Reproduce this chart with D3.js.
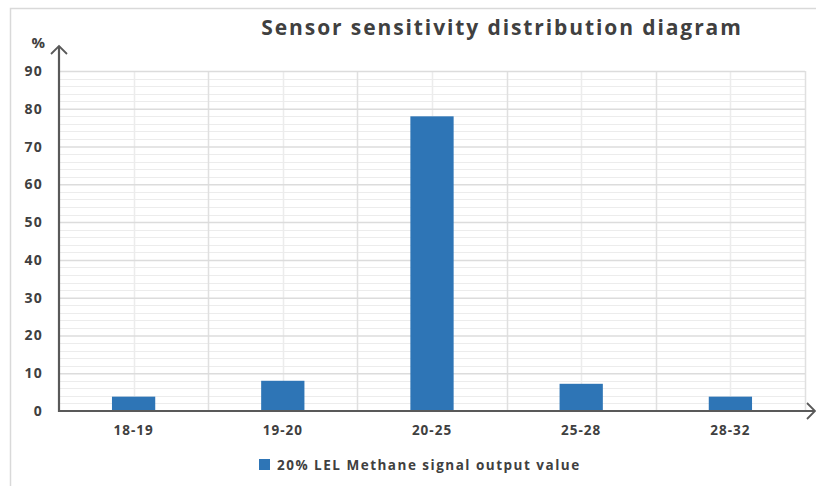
<!DOCTYPE html>
<html>
<head>
<meta charset="utf-8">
<script src="https://cdn.jsdelivr.net/npm/d3@7"></script>
<style>
  body { margin: 0; background: #fff; }
  svg text { font-family: 'Open Sans', 'Liberation Sans', sans-serif; font-weight: 700; fill: #404040; }
</style>
</head>
<body>
<div id="chart"></div>
<script>
const categories = ['18-19', '19-20', '20-25', '25-28', '28-32'];
const values = [3.8, 8, 78, 7.2, 3.8];
const yTicks = [0, 10, 20, 30, 40, 50, 60, 70, 80, 90];
const seriesName = '20% LEL Methane signal output value';
const title = 'Sensor sensitivity distribution diagram';

const width = 816, height = 486;
const plot = { left: 59, right: 805, top: 71, bottom: 411 };

const svg = d3.select('#chart').append('svg')
  .attr('width', width)
  .attr('height', height);

// outer chart frame
svg.append('rect')
  .attr('x', 10.5).attr('y', 8.5)
  .attr('width', 900).attr('height', 600)
  .attr('fill', 'none')
  .attr('stroke', '#d9d9d9')
  .attr('stroke-width', 1.5);

const x = d3.scaleBand()
  .domain(categories)
  .range([plot.left, plot.right])
  .paddingInner(0.71)
  .paddingOuter(0.355);

const xFull = d3.scaleBand()
  .domain(categories)
  .range([plot.left, plot.right]);

const y = d3.scaleLinear()
  .domain([0, 90])
  .range([plot.bottom, plot.top]);

// minor horizontal grid every 2
const minor = d3.range(0, 91, 2).filter(v => v % 10 !== 0);
svg.append('g').selectAll('line')
  .data(minor)
  .join('line')
  .attr('x1', plot.left).attr('x2', plot.right)
  .attr('y1', d => Math.round(y(d)) + 0.5).attr('y2', d => Math.round(y(d)) + 0.5)
  .attr('stroke', '#ececec')
  .attr('stroke-width', 1);

// vertical grid: boundaries and category centres
const vLines = [];
categories.forEach(c => {
  vLines.push({ x: xFull(c) + xFull.bandwidth() / 2, major: false });
  vLines.push({ x: xFull(c) + xFull.bandwidth(), major: true });
});
svg.append('g').selectAll('line')
  .data(vLines)
  .join('line')
  .attr('x1', d => Math.round(d.x) + 0.5).attr('x2', d => Math.round(d.x) + 0.5)
  .attr('y1', plot.top).attr('y2', plot.bottom)
  .attr('stroke', d => d.major ? '#e0e0e0' : '#ececec')
  .attr('stroke-width', 1.5);

// major horizontal grid
svg.append('g')
  .attr('transform', `translate(${plot.left},0)`)
  .call(d3.axisLeft(y)
    .tickValues(yTicks.filter(v => v > 0))
    .tickSize(-(plot.right - plot.left))
    .tickFormat(''))
  .call(g => g.select('.domain').remove())
  .call(g => g.selectAll('line').attr('stroke', '#dcdcdc').attr('stroke-width', 1.5));

// bars
svg.append('g').selectAll('rect')
  .data(values)
  .join('rect')
  .attr('x', (d, i) => x(categories[i]))
  .attr('y', d => y(d))
  .attr('width', x.bandwidth())
  .attr('height', d => plot.bottom - y(d))
  .attr('fill', '#2e75b6');

// y tick labels
svg.append('g')
  .attr('transform', `translate(${plot.left},0)`)
  .call(d3.axisLeft(y).tickValues(yTicks).tickSize(0).tickPadding(16))
  .call(g => g.select('.domain').remove())
  .call(g => g.selectAll('text')
    .attr('font-size', 14)
    .attr('letter-spacing', 1.2)
    .attr('font-family', null)
    .attr('fill', null));

// x tick labels
svg.append('g')
  .attr('transform', `translate(0,${plot.bottom})`)
  .call(d3.axisBottom(xFull).tickSize(0).tickPadding(14))
  .call(g => g.select('.domain').remove())
  .call(g => g.selectAll('text')
    .attr('font-size', 13.5)
    .attr('letter-spacing', 1)
    .attr('font-family', null)
    .attr('fill', null));

// axes with arrowheads
const axisColor = '#595959';
svg.append('line')
  .attr('x1', plot.left).attr('x2', plot.left)
  .attr('y1', plot.bottom + 1).attr('y2', 46)
  .attr('stroke', axisColor).attr('stroke-width', 2.2);
svg.append('path')
  .attr('d', `M${plot.left - 8},${54}L${plot.left},${46}L${plot.left + 8},${54}`)
  .attr('fill', 'none').attr('stroke', axisColor).attr('stroke-width', 1.8);
svg.append('line')
  .attr('x1', plot.left - 1).attr('x2', 815)
  .attr('y1', plot.bottom).attr('y2', plot.bottom)
  .attr('stroke', axisColor).attr('stroke-width', 2.2);
svg.append('path')
  .attr('d', `M807,${plot.bottom - 8}L815,${plot.bottom}L807,${plot.bottom + 8}`)
  .attr('fill', 'none').attr('stroke', axisColor).attr('stroke-width', 1.8);

// unit label
svg.append('text')
  .attr('x', 45).attr('y', 48)
  .attr('text-anchor', 'end')
  .attr('font-size', 15)
  .text('%');

// title
svg.append('text')
  .attr('x', 502).attr('y', 35)
  .attr('text-anchor', 'middle')
  .attr('font-size', 21)
  .attr('letter-spacing', 1.9)
  .text(title);

// legend
const legend = svg.append('g').attr('transform', 'translate(259,459)');
legend.append('rect')
  .attr('width', 11).attr('height', 11)
  .attr('fill', '#2e75b6');
legend.append('text')
  .attr('x', 18).attr('y', 10.5)
  .attr('font-size', 13.5)
  .attr('letter-spacing', 1.5)
  .text(seriesName);
</script>
</body>
</html>
